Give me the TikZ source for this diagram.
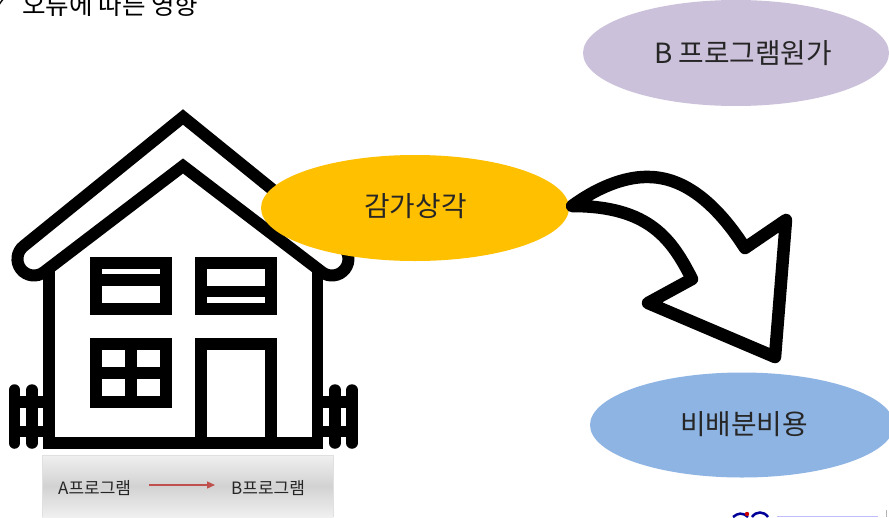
\documentclass[tikz,border=0pt]{standalone}
\usepackage{fontspec}
\setmainfont{Noto Sans CJK KR}
\newfontfamily\symfont{DejaVu Sans}
\usetikzlibrary{shapes.geometric,arrows.meta}
\definecolor{ovalgold}{HTML}{FFC000}
\definecolor{ovalpurple}{HTML}{CCC1DA}
\definecolor{ovalblue}{HTML}{8EB4E3}
\definecolor{redline}{HTML}{C0504D}
\definecolor{barmid}{HTML}{D2D2D2}
\definecolor{barend}{HTML}{F0F0F0}
\definecolor{inktext}{HTML}{262626}
\tikzset{
  heavy/.style={line width=11.5pt,line join=miter,draw=black},
  post/.style={line width=11.5pt,line cap=round,draw=black},
  oval/.style={ellipse,inner sep=0pt,minimum width=#1},
  label/.style={text=inktext,inner sep=0pt,font=\fontsize{27.8}{28}\selectfont},
  small/.style={text=inktext,inner sep=0pt,font=\fontsize{17}{17}\selectfont}
}
\begin{document}
\begin{tikzpicture}[x=1pt,y=-1pt]
\useasboundingbox (0,0) rectangle (889,517);
\clip (0,0) rectangle (889,517);
\fill[white] (0,0) rectangle (889,517);
% heading, cut by the top edge
\node[anchor=base west,inner sep=0pt,text=black,font=\fontsize{25.6}{26}\selectfont] (head) at (22,14.5) {오류에 따른 영향};
\node[anchor=base west,inner sep=0pt,text=black,font=\symfont\fontsize{18}{18}\selectfont] (tick) at (-7,9) {✓};
% house
\draw[heavy,line width=12pt] (183,117) -- (342.1,246) arc[start angle=-52,end angle=128,radius=16.5] -- (183,166) -- (44.1,272) arc[start angle=52,end angle=232,radius=16.5] -- cycle;
\draw[heavy] (49,268) -- (49,443) -- (317.5,443) -- (317.5,268);
\draw[heavy] (96,263) rectangle (166,309);
\draw[heavy] (96,280) -- (166,280);
\draw[heavy] (201,263) rectangle (271,309);
\draw[heavy] (201,291.5) -- (271,291.5);
\draw[heavy] (96,344) rectangle (166,402);
\draw[heavy] (131,344) -- (131,402);
\draw[heavy] (96,373) -- (166,373);
\draw[heavy] (201,443) -- (201,344) -- (271,344) -- (271,443);
% fences
\foreach \px in {14.5,32,335,352}{\draw[post] (\px,390) -- (\px,443);}
\foreach \ry in {402,431.5}{
  \draw[heavy] (14.5,\ry) -- (49,\ry);
  \draw[heavy] (317.5,\ry) -- (352,\ry);
}
% ovals
\node[oval=308pt,minimum height=106pt,fill=ovalgold] (gold) at (415,208) {};
\node[label] (goldtext) at (415.5,206) {감가상각};
\node[oval=306pt,minimum height=106pt,fill=ovalpurple] (purple) at (736,53) {};
\node[label] (purpletext) at (743,53) {B 프로그램원가};
\node[oval=304pt,minimum height=105pt,fill=ovalblue] (blue) at (742,425) {};
\node[label] (bluetext) at (744,424) {비배분비용};
% curved arrow
\draw[line width=12.5pt,line join=round,draw=black,fill=white]
  (572,206) .. controls (602,184) and (630,176) .. (650,177)
  .. controls (690,178) and (722,212) .. (745,248)
  -- (786,220) -- (775,357) -- (648,303) -- (692,279)
  .. controls (672,240) and (650,206) .. (572,206) -- cycle;
% program bar
\shade[top color=barend,bottom color=barend,middle color=barmid,shading angle=0] (42,455) rectangle (333,517);
\draw[white!88!black,line width=1pt] (42,517) -- (42,455) -- (333,455) -- (333,517);
\node[small,anchor=west] (progA) at (58,488) {A프로그램};
\node[small,anchor=west] (progB) at (231,488) {B프로그램};
\coordinate (arrowto) at (215,485);
\draw[redline,line width=1.2pt,-{Triangle[length=8pt,width=7pt]}] (progA.east) ++(18,-3) -- (arrowto);
% logo fragment at the lower edge
\draw[blue!60!black,line width=2.5pt] (733,517) .. controls (738,513) and (742,512) .. (748,517);
\fill[red!80!black] (747,514) circle (2.2);
\draw[blue!60!black,line width=2.5pt] (752,517) .. controls (756,511) and (764,511) .. (768,517);
\draw[blue!25!white,line width=1.5pt] (777,516.5) -- (878,516.5);
\draw[gray!60,line width=0.8pt] (886,510) -- (886,517);
\end{tikzpicture}
\end{document}
